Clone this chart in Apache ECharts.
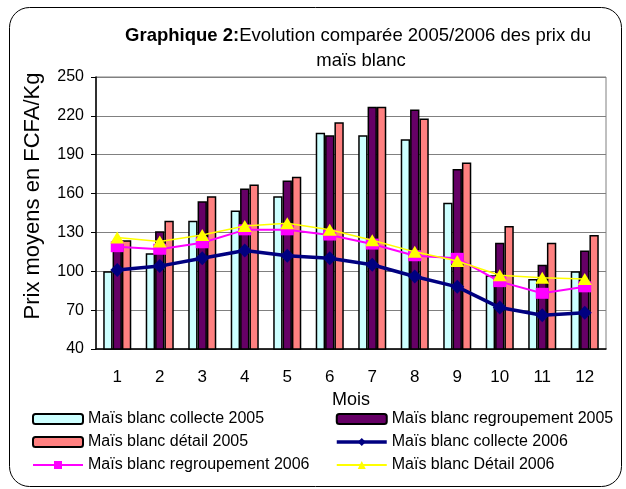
<!DOCTYPE html>
<html>
<head>
<meta charset="utf-8">
<script src="https://cdn.jsdelivr.net/npm/echarts@6/dist/echarts.min.js"></script>
<style>
  html, body { margin: 0; padding: 0; background: #fff; }
  #chart { width: 626px; height: 489px; }
</style>
</head>
<body>
<div id="chart"></div>
<script>
const months = ['1', '2', '3', '4', '5', '6', '7', '8', '9', '10', '11', '12']
const collecte2005 = [100, 114, 139, 147, 158, 207, 205, 202, 153, 97, 94, 100]
const regroupement2005 = [124, 131, 154, 164, 170, 205, 227, 225, 179, 122, 105, 116]
const detail2005 = [124, 139, 158, 167, 173, 215, 227, 218, 184, 135, 122, 128]
const collecte2006 = [101, 104, 110, 116, 112, 110, 105, 96, 88, 72, 66, 68]
const regroupement2006 = [119, 117, 122, 132, 132, 128, 121, 112, 110, 92, 83, 88]
const detail2006 = [126, 123, 128, 135, 137, 132, 124, 115, 108, 97, 95, 94]

const font = "'Liberation Sans', Arial, sans-serif"
const chart = echarts.init(document.getElementById('chart'))

const barStyle = (color) => ({ color: color, borderColor: '#000', borderWidth: 1.5 })
const legendText = { fontFamily: font, fontSize: 16, color: '#000' }

const option = {
  animation: false,
  backgroundColor: '#fff',
  textStyle: { fontFamily: font },
  title: [
    {
      text: '{b|Graphique 2:}{n|Evolution comparée 2005/2006 des prix du}',
      left: 353, top: 21, textAlign: 'center',
      textStyle: {
        fontWeight: 'normal',
        rich: {
          b: { fontFamily: font, fontSize: 18.5, fontWeight: 'bold', color: '#000' },
          n: { fontFamily: font, fontSize: 18.5, fontWeight: 'normal', color: '#000' }
        }
      }
    },
    {
      text: 'maïs blanc',
      left: 356, top: 46, textAlign: 'center',
      textStyle: { fontFamily: font, fontSize: 18.5, fontWeight: 'normal', color: '#000' }
    }
  ],
  legend: [
    {
      orient: 'vertical', left: 27, top: 406, itemWidth: 50, itemHeight: 10, itemGap: 7,
      textStyle: legendText,
      data: [
        'Maïs blanc collecte 2005',
        'Maïs blanc détail 2005',
        { name: 'Maïs blanc regroupement 2006', lineStyle: { width: 2 } }
      ]
    },
    {
      orient: 'vertical', left: 330, top: 406, itemWidth: 50, itemHeight: 10, itemGap: 7,
      textStyle: legendText,
      data: [
        'Maïs blanc regroupement 2005',
        { name: 'Maïs blanc collecte 2006', lineStyle: { width: 3.5 } },
        { name: 'Maïs blanc Détail 2006', lineStyle: { width: 2 } }
      ]
    }
  ],
  graphic: [
    {
      type: 'rect', left: 7, top: 5, silent: true,
      shape: { width: 612, height: 479, r: 20 },
      style: { fill: 'none', stroke: '#000', lineWidth: 1 }
    },
    {
      type: 'text', x: 33, y: 196, rotation: Math.PI / 2, silent: true,
      style: {
        text: 'Prix moyens en FCFA/Kg', fontFamily: font, fontSize: 22, fill: '#000',
        align: 'center', verticalAlign: 'middle'
      }
    }
  ],
  grid: {
    left: 96, right: 20, top: 77, bottom: 140,
    show: true, borderColor: '#808080', borderWidth: 1
  },
  xAxis: {
    type: 'category',
    data: months,
    name: 'Mois',
    nameLocation: 'middle',
    nameGap: 34,
    nameTextStyle: { fontFamily: font, fontSize: 18, color: '#000' },
    axisLine: { lineStyle: { color: '#000', width: 1.5 } },
    axisTick: { length: 5, lineStyle: { color: '#000' } },
    axisLabel: { fontFamily: font, fontSize: 17, color: '#000', margin: 20 }
  },
  yAxis: {
    type: 'value',
    min: 40, max: 250, interval: 30,
    axisLine: { show: true, lineStyle: { color: '#000', width: 1.5 } },
    axisTick: { show: true, length: 5, lineStyle: { color: '#000' } },
    axisLabel: { fontFamily: font, fontSize: 16, color: '#000', margin: 12 },
    splitLine: { lineStyle: { color: '#808080', width: 1 } }
  },
  series: [
    {
      name: 'Maïs blanc collecte 2005', type: 'bar', data: collecte2005,
      barGap: '0%', barCategoryGap: '34%', itemStyle: barStyle('#CCFFFF')
    },
    {
      name: 'Maïs blanc regroupement 2005', type: 'bar', data: regroupement2005,
      itemStyle: barStyle('#660066')
    },
    {
      name: 'Maïs blanc détail 2005', type: 'bar', data: detail2005,
      itemStyle: barStyle('#FF8080')
    },
    {
      name: 'Maïs blanc collecte 2006', type: 'line', data: collecte2006,
      symbol: 'diamond', symbolSize: 14,
      lineStyle: { color: '#000080', width: 3.5 },
      itemStyle: { color: '#000080' }, z: 3
    },
    {
      name: 'Maïs blanc regroupement 2006', type: 'line', data: regroupement2006,
      symbol: 'rect', symbolSize: [13, 11],
      lineStyle: { color: '#FF00FF', width: 2 },
      itemStyle: { color: '#FF00FF' }, z: 4
    },
    {
      name: 'Maïs blanc Détail 2006', type: 'line', data: detail2006,
      symbol: 'triangle', symbolSize: [14, 12],
      lineStyle: { color: '#FFFF00', width: 1.5 },
      itemStyle: { color: '#FFFF00' }, z: 5
    }
  ]
}
chart.setOption(option)
</script>
</body>
</html>
